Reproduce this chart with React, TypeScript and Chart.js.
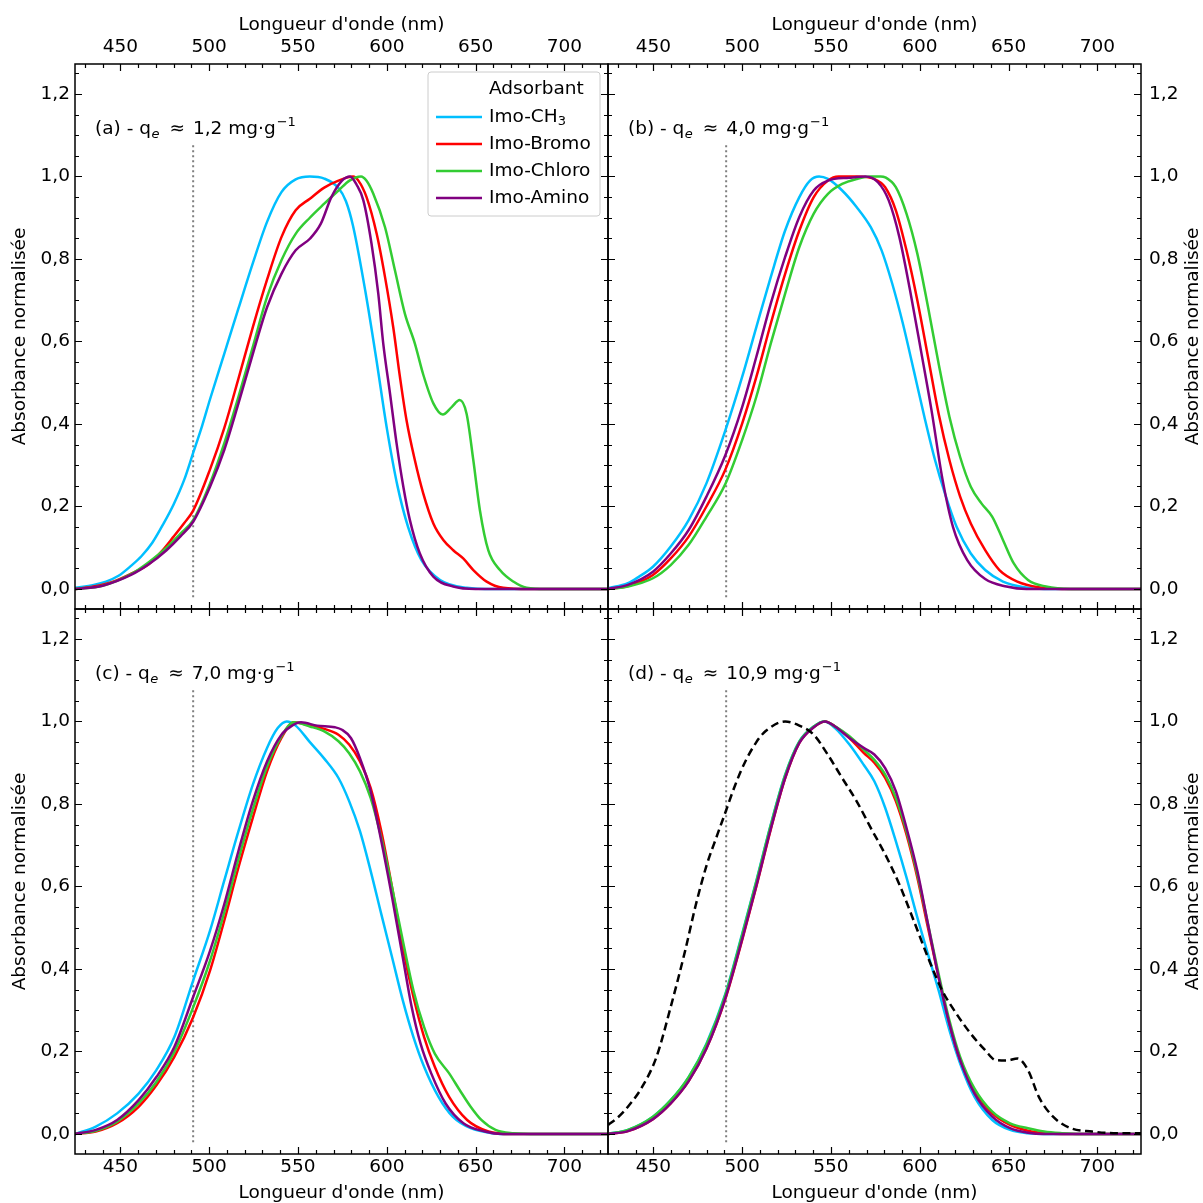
import React, { useEffect, useRef } from "react";
import { Chart, registerables } from "chart.js";

Chart.register(...registerables);

type P = [number, number];

// ---------------- data ----------------
const X_MIN = 424.5;
const X_MAX = 724.5;
const Y_MIN = -0.0485;
const Y_MAX = 1.2727;
const X_TICKS = [450, 500, 550, 600, 650, 700];
const Y_TICKS = [0, 0.2, 0.4, 0.6, 0.8, 1.0, 1.2];
const X_TITLE = "Longueur d'onde (nm)";
const Y_TITLE = "Absorbance normalisée";
const LEGEND_TITLE = "Adsorbant";
const SERIES_NAMES = ["Imo-CH", "Imo-Bromo", "Imo-Chloro", "Imo-Amino"];
const SERIES_SUBS = ["3", "", "", ""];
const SERIES_COLORS = ["#00bfff", "#ff0000", "#33cc33", "#800080"];
const PANEL_LETTERS = ["(a)", "(b)", "(c)", "(d)"];
const QE_VALUES = ["1,2", "4,0", "7,0", "10,9"];
const VLINE_X = 491;
const VLINE_Y = [-0.02, 1.08];

const A_CH3: P[] = [[424.5,0.003],[435,0.01],[442,0.018],[449,0.032],[456,0.056],[462,0.08],[468,0.112],[474,0.156],[480,0.205],[486,0.265],[491,0.33],[496,0.395],[500.5,0.46],[508.5,0.57],[516.5,0.68],[524.6,0.79],[532.6,0.89],[540.7,0.962],[548.7,0.993],[556.7,1.0],[564.8,0.995],[572.8,0.972],[577,0.94],[581,0.88],[588,0.72],[594,0.56],[600,0.39],[606,0.25],[612,0.15],[619.5,0.07],[630,0.022],[645,0.003],[660,0],[724.5,0]];
const A_BROMO: P[] = [[424.5,0],[435,0.006],[446,0.018],[456,0.037],[466,0.06],[473,0.09],[480,0.127],[486,0.16],[491,0.19],[500.5,0.29],[508.5,0.39],[516.5,0.51],[524.6,0.635],[532.6,0.75],[540.7,0.853],[548.7,0.918],[556.7,0.946],[564.8,0.973],[572.8,0.99],[581,1.0],[584,0.99],[588.6,0.95],[594.3,0.861],[599,0.756],[603.6,0.635],[607.4,0.514],[611.1,0.409],[615.8,0.312],[620.5,0.232],[626.2,0.159],[631.8,0.119],[637.4,0.094],[643,0.074],[648.7,0.046],[656.2,0.018],[665.5,0.003],[680,0],[724.5,0]];
const A_CHLORO: P[] = [[424.5,0],[440,0.008],[456,0.036],[466,0.065],[476,0.1],[484,0.135],[491,0.167],[500.5,0.256],[508.5,0.353],[516.5,0.466],[524.6,0.587],[532.6,0.708],[540.7,0.797],[548.7,0.861],[556.7,0.9],[564.8,0.934],[572.8,0.966],[579,0.99],[585.5,1.0],[588.5,0.99],[592.4,0.958],[599,0.877],[604.6,0.772],[610.2,0.667],[615.8,0.595],[620.5,0.52],[626.2,0.45],[631.5,0.423],[636.5,0.441],[641,0.458],[644.9,0.425],[648.7,0.312],[652.4,0.191],[657.1,0.094],[663.7,0.046],[671.2,0.018],[678.7,0.003],[690,0],[724.5,0]];
const A_AMINO: P[] = [[424.5,0],[440,0.008],[456,0.034],[466,0.06],[476,0.094],[484,0.128],[491,0.163],[500.5,0.248],[508.5,0.337],[516.5,0.45],[524.6,0.57],[532.6,0.683],[540.7,0.764],[548.7,0.821],[556.7,0.849],[562.8,0.885],[568.8,0.95],[574.8,0.99],[579.3,1.0],[583,0.98],[586.8,0.942],[591.4,0.837],[595.2,0.716],[598,0.595],[601.8,0.474],[605.5,0.353],[609.3,0.248],[613,0.167],[618.6,0.086],[626.2,0.03],[637.4,0.006],[650,0],[724.5,0]];

const B_CH3: P[] = [[424.5,0.002],[435.7,0.014],[442,0.03],[449.8,0.054],[459.8,0.103],[469.9,0.167],[479.9,0.256],[490.6,0.385],[500,0.514],[508,0.635],[516.1,0.756],[524.2,0.869],[532.2,0.95],[538.2,0.99],[543.3,1.0],[548.3,0.994],[556.3,0.966],[564.4,0.926],[572.4,0.877],[578.5,0.821],[584.5,0.74],[590.5,0.643],[596.6,0.53],[602.6,0.417],[608.6,0.312],[614.7,0.224],[620.7,0.151],[628.7,0.086],[636.8,0.046],[646.8,0.018],[658.9,0.004],[670,0],[724.5,0]];
const B_BROMO: P[] = [[424.5,0],[435.7,0.007],[449.8,0.034],[459.8,0.074],[469.9,0.127],[479.9,0.2],[490.6,0.29],[500,0.401],[508,0.514],[516.1,0.643],[524.2,0.764],[532.2,0.869],[540.3,0.95],[548.3,0.99],[554.3,1.0],[564.4,1.0],[574.4,0.994],[580.5,0.974],[586.5,0.918],[592.5,0.821],[598.6,0.7],[604.6,0.563],[610.6,0.425],[616.7,0.312],[622.7,0.224],[628.7,0.159],[636.8,0.094],[644.8,0.046],[654.9,0.018],[666.9,0.004],[680,0],[724.5,0]];
const B_CHLORO: P[] = [[424.5,0],[435.7,0.006],[449.8,0.026],[459.8,0.058],[469.9,0.107],[479.9,0.175],[490.6,0.255],[500,0.361],[508,0.466],[516.1,0.595],[524.2,0.716],[532.2,0.829],[540.3,0.91],[548.3,0.958],[556.3,0.982],[564.4,0.994],[572,1.0],[578,1.0],[580.5,0.998],[586.5,0.974],[592.5,0.91],[598.6,0.813],[604.6,0.684],[610.6,0.546],[616.7,0.417],[622.7,0.32],[628.7,0.248],[634.8,0.207],[640.8,0.175],[646.8,0.119],[652.9,0.062],[660.9,0.022],[671,0.006],[685,0],[724.5,0]];
const B_AMINO: P[] = [[424.5,0],[435.7,0.01],[449.8,0.042],[459.8,0.086],[469.9,0.143],[479.9,0.224],[490.6,0.325],[500,0.441],[508,0.563],[516.1,0.692],[524.2,0.805],[532.2,0.902],[540.3,0.966],[548.3,0.99],[560.4,0.997],[569.4,1.0],[576.4,0.986],[582.5,0.942],[588.5,0.853],[594.5,0.724],[600.6,0.579],[606.6,0.433],[612.6,0.27],[618.7,0.15],[626.7,0.07],[636.8,0.024],[648.8,0.006],[660,0],[724.5,0]];

const C_CH3: P[] = [[424.5,0],[436.2,0.018],[448.2,0.05],[460.3,0.098],[470.3,0.155],[480.4,0.235],[491,0.372],[500.5,0.493],[508.5,0.614],[516.5,0.734],[524.6,0.847],[532.6,0.936],[538.6,0.984],[543.7,1.0],[548.7,0.99],[556.7,0.95],[564.8,0.91],[572.8,0.863],[578.8,0.807],[584.9,0.734],[590.9,0.638],[596.9,0.533],[603,0.428],[609,0.324],[615,0.235],[621,0.163],[629.1,0.09],[637.1,0.042],[647.2,0.014],[659.2,0.002],[670,0],[724.5,0]];
const C_BROMO: P[] = [[424.5,0],[436.2,0.006],[448.2,0.026],[460.3,0.066],[470.3,0.118],[480.4,0.187],[491,0.283],[500.5,0.396],[508.5,0.517],[516.5,0.646],[524.6,0.767],[532.6,0.879],[540.7,0.96],[547.7,0.998],[556.7,0.99],[564.8,0.982],[572.8,0.968],[578.8,0.944],[584.9,0.903],[590.9,0.839],[596.9,0.734],[603,0.597],[609,0.452],[615,0.332],[621,0.235],[627,0.163],[635.1,0.09],[645.2,0.034],[657.2,0.006],[670,0],[724.5,0]];
const C_CHLORO: P[] = [[424.5,0],[436.2,0.008],[448.2,0.03],[460.3,0.074],[470.3,0.126],[480.4,0.199],[491,0.307],[500.5,0.42],[508.5,0.537],[516.5,0.666],[524.6,0.787],[532.6,0.891],[540.7,0.964],[547.7,0.998],[556.7,0.988],[564.8,0.976],[572.8,0.952],[578.8,0.923],[584.9,0.879],[590.9,0.815],[596.9,0.718],[603,0.597],[609,0.469],[615,0.348],[621,0.259],[627,0.195],[635.1,0.147],[641.1,0.106],[647.2,0.066],[653.2,0.034],[661.2,0.01],[671.3,0.002],[685,0],[724.5,0]];
const C_AMINO: P[] = [[424.5,0],[436.2,0.01],[448.2,0.034],[460.3,0.082],[470.3,0.138],[480.4,0.211],[491,0.332],[500.5,0.444],[508.5,0.557],[516.5,0.686],[524.6,0.807],[532.6,0.903],[540.7,0.968],[546.7,0.99],[551.7,0.998],[560.8,0.99],[570.8,0.986],[574.8,0.98],[579.8,0.96],[584.9,0.911],[590.9,0.831],[596.9,0.71],[603,0.573],[609,0.428],[614,0.308],[619,0.219],[625,0.147],[633.1,0.074],[643.1,0.026],[655.2,0.006],[665,0],[724.5,0]];

const D_CH3: P[] = [[424.5,0],[435.7,0.01],[449.8,0.042],[459.8,0.082],[469.9,0.138],[479.9,0.219],[490.6,0.34],[500,0.485],[508,0.614],[516.1,0.75],[524.2,0.871],[532.2,0.952],[540.3,0.988],[546.3,1.0],[552.3,0.984],[560.4,0.944],[568.4,0.895],[574.4,0.855],[580.5,0.791],[586.5,0.71],[592.5,0.622],[598.6,0.525],[604.6,0.436],[610.6,0.348],[616.7,0.251],[622.7,0.171],[630.8,0.09],[640.8,0.034],[650.8,0.01],[660.9,0.002],[672,0],[724.5,0]];
const D_BROMO: P[] = [[424.5,0],[435.7,0.007],[449.8,0.036],[459.8,0.074],[469.9,0.128],[479.9,0.207],[490.6,0.328],[500,0.47],[508,0.6],[516.1,0.738],[524.2,0.862],[532.2,0.948],[540.3,0.986],[546.8,1.0],[552.3,0.988],[560.4,0.96],[568.4,0.924],[574.4,0.9],[580.5,0.863],[586.5,0.807],[592.5,0.726],[598.6,0.622],[604.6,0.5],[610.6,0.38],[616.7,0.267],[622.7,0.179],[630.8,0.106],[640.8,0.05],[650.8,0.022],[660.9,0.008],[670,0.002],[680,0],[724.5,0]];
const D_CHLORO: P[] = [[424.5,0],[435.7,0.01],[449.8,0.042],[459.8,0.082],[469.9,0.138],[479.9,0.217],[490.6,0.338],[500,0.482],[508,0.612],[516.1,0.748],[524.2,0.869],[532.2,0.951],[540.3,0.988],[546.5,1.0],[552.3,0.988],[560.4,0.964],[568.4,0.932],[574.4,0.907],[580.5,0.871],[586.5,0.815],[592.5,0.734],[598.6,0.63],[604.6,0.509],[610.6,0.388],[616.7,0.275],[622.7,0.187],[630.8,0.11],[640.8,0.054],[650.8,0.026],[660.9,0.014],[670,0.006],[680,0.002],[690,0],[724.5,0]];
const D_AMINO: P[] = [[424.5,0],[435.7,0.007],[449.8,0.036],[459.8,0.074],[469.9,0.128],[479.9,0.207],[490.6,0.33],[500,0.472],[508,0.602],[516.1,0.74],[524.2,0.863],[532.2,0.948],[540.3,0.986],[546.5,1.0],[552.3,0.988],[560.4,0.96],[568.4,0.936],[574.4,0.92],[580.5,0.887],[586.5,0.831],[592.5,0.742],[598.6,0.638],[604.6,0.509],[610.6,0.38],[616.7,0.267],[622.7,0.179],[630.8,0.098],[640.8,0.042],[650.8,0.014],[660.9,0.003],[670,0],[724.5,0]];
const D_REF: P[] = [[424.6,0.022],[430,0.04],[435.7,0.066],[443.7,0.114],[451.8,0.187],[459.8,0.308],[467.9,0.444],[473.9,0.555],[479.9,0.65],[486,0.725],[490.6,0.78],[496,0.845],[502,0.905],[508,0.95],[512,0.972],[516.1,0.986],[520,0.996],[524.2,1.0],[532.2,0.99],[540.3,0.968],[548.3,0.919],[556.3,0.863],[564.4,0.807],[572.4,0.742],[580.5,0.678],[588.5,0.605],[596.6,0.517],[604.6,0.428],[612.6,0.348],[620.7,0.291],[628.7,0.243],[636.8,0.203],[642.8,0.179],[648.8,0.178],[655,0.183],[660.9,0.155],[667,0.09],[675,0.042],[685,0.014],[697,0.006],[709,0.002],[724.5,0.002]];

// ---------------- layout ----------------
const W = 1203;
const H = 1203;
const FONT = "DejaVu Sans";
const FS = 18.5;

type Area = { left: number; top: number; right: number; bottom: number };
type PanelCfg = {
  key: string;
  area: Area;
  xPos: "top" | "bottom";
  yPos: "left" | "right";
  series: P[][];
  ref?: P[];
  idx: number;
  legend: boolean;
};

const PANELS: PanelCfg[] = [
  { key: "a", idx: 0, area: { left: 75, top: 64, right: 608, bottom: 609 }, xPos: "top", yPos: "left", series: [A_CH3, A_BROMO, A_CHLORO, A_AMINO], legend: true },
  { key: "b", idx: 1, area: { left: 608, top: 64, right: 1141, bottom: 609 }, xPos: "top", yPos: "right", series: [B_CH3, B_BROMO, B_CHLORO, B_AMINO], legend: false },
  { key: "c", idx: 2, area: { left: 75, top: 609, right: 608, bottom: 1154 }, xPos: "bottom", yPos: "left", series: [C_CH3, C_BROMO, C_CHLORO, C_AMINO], legend: false },
  { key: "d", idx: 3, area: { left: 608, top: 609, right: 1141, bottom: 1154 }, xPos: "bottom", yPos: "right", series: [D_CH3, D_BROMO, D_CHLORO, D_AMINO], ref: D_REF, legend: false },
];

function fmtY(v: number) {
  return Number(v).toFixed(1).replace(".", ",");
}

function drawAnnotation(ctx: CanvasRenderingContext2D, x0: number, y: number, letter: string, qe: string) {
  let x = x0;
  ctx.fillStyle = "#000";
  ctx.textAlign = "left";
  ctx.textBaseline = "alphabetic";
  ctx.font = `${FS}px "${FONT}"`;
  let t = `${letter} - q`;
  ctx.fillText(t, x, y);
  x += ctx.measureText(t).width;
  ctx.font = `italic 13px "${FONT}"`;
  ctx.fillText("e", x + 0.5, y + 4);
  x += ctx.measureText("e").width + 0.5 + 10;
  ctx.font = `${FS}px "${FONT}"`;
  ctx.fillText("≈", x, y);
  x += ctx.measureText("≈").width + 8;
  t = `${qe} mg·g`;
  ctx.fillText(t, x, y);
  x += ctx.measureText(t).width;
  ctx.font = `13px "${FONT}"`;
  ctx.fillText("−1", x + 1, y - 8);
}

function drawLegend(ctx: CanvasRenderingContext2D, left: number, top: number) {
  const bx = left + 353, by = top + 8, bw = 172, bh = 144, r = 3;
  ctx.save();
  ctx.beginPath();
  ctx.moveTo(bx + r, by);
  ctx.lineTo(bx + bw - r, by);
  ctx.quadraticCurveTo(bx + bw, by, bx + bw, by + r);
  ctx.lineTo(bx + bw, by + bh - r);
  ctx.quadraticCurveTo(bx + bw, by + bh, bx + bw - r, by + bh);
  ctx.lineTo(bx + r, by + bh);
  ctx.quadraticCurveTo(bx, by + bh, bx, by + bh - r);
  ctx.lineTo(bx, by + r);
  ctx.quadraticCurveTo(bx, by, bx + r, by);
  ctx.closePath();
  ctx.fillStyle = "rgba(255,255,255,0.8)";
  ctx.fill();
  ctx.strokeStyle = "#cccccc";
  ctx.lineWidth = 1;
  ctx.stroke();

  const rows = [top + 25, top + 53, top + 80, top + 107, top + 134];
  const tx = left + 414;
  ctx.fillStyle = "#000";
  ctx.textAlign = "left";
  ctx.textBaseline = "middle";
  ctx.font = `${FS}px "${FONT}"`;
  ctx.fillText(LEGEND_TITLE, tx, rows[0]);
  SERIES_NAMES.forEach((name, i) => {
    const yy = rows[i + 1];
    ctx.strokeStyle = SERIES_COLORS[i];
    ctx.lineWidth = 2.5;
    ctx.beginPath();
    ctx.moveTo(left + 361, yy);
    ctx.lineTo(left + 407, yy);
    ctx.stroke();
    ctx.font = `${FS}px "${FONT}"`;
    ctx.fillText(name, tx, yy);
    if (SERIES_SUBS[i]) {
      const w = ctx.measureText(name).width;
      ctx.font = `13px "${FONT}"`;
      ctx.fillText(SERIES_SUBS[i], tx + w, yy + 5);
    }
  });
  ctx.restore();
}

function Panel({ cfg }: { cfg: PanelCfg }) {
  const ref = useRef<HTMLCanvasElement | null>(null);

  useEffect(() => {
    const canvas = ref.current;
    if (!canvas) return;
    const datasets: any[] = [];
    cfg.series.forEach((pts, i) => {
      datasets.push({
        label: SERIES_NAMES[i] + SERIES_SUBS[i],
        data: pts.map(([x, y]) => ({ x, y })),
        borderColor: SERIES_COLORS[i],
        backgroundColor: SERIES_COLORS[i],
        borderWidth: 2.5,
        pointRadius: 0,
        fill: false,
        cubicInterpolationMode: "monotone",
        order: 4 - i,
      });
    });
    if (cfg.ref) {
      datasets.push({
        label: "référence",
        data: cfg.ref.map(([x, y]) => ({ x, y })),
        borderColor: "#000",
        borderWidth: 2.5,
        borderDash: [8, 4.5],
        pointRadius: 0,
        fill: false,
        cubicInterpolationMode: "monotone",
        order: -1,
      });
    }
    datasets.push({
      label: "seuil",
      data: VLINE_Y.map((y) => ({ x: VLINE_X, y })),
      borderColor: "#7f7f7f",
      borderWidth: 2,
      borderDash: [2, 3],
      pointRadius: 0,
      fill: false,
      order: 10,
    });

    const a = cfg.area;
    const deco = {
      id: "deco" + cfg.key,
      afterDraw(chart: any) {
        const ctx: CanvasRenderingContext2D = chart.ctx;
        const { left, top, right, bottom } = chart.chartArea;
        const xs = chart.scales.x;
        const ys = chart.scales.y;
        ctx.save();
        ctx.strokeStyle = "#000";
        ctx.lineWidth = 1.2;
        ctx.beginPath();
        for (let i = 43; i <= 72; i++) {
          const v = i * 10;
          const px = Math.round(xs.getPixelForValue(v)) + 0.5;
          const len = i % 5 === 0 ? 7 : 4;
          ctx.moveTo(px, top);
          ctx.lineTo(px, top + len);
          ctx.moveTo(px, bottom);
          ctx.lineTo(px, bottom - len);
        }
        for (let i = -1; i <= 25; i++) {
          const v = i * 0.05;
          if (v < Y_MIN || v > Y_MAX) continue;
          const py = Math.round(ys.getPixelForValue(v)) + 0.5;
          const len = i % 4 === 0 ? 7 : 4;
          ctx.moveTo(left, py);
          ctx.lineTo(left + len, py);
          ctx.moveTo(right, py);
          ctx.lineTo(right - len, py);
        }
        ctx.stroke();
        ctx.lineWidth = 1.5;
        ctx.strokeRect(left, top, right - left, bottom - top);
        drawAnnotation(ctx, left + 20, top + 70, PANEL_LETTERS[cfg.idx], QE_VALUES[cfg.idx]);
        if (cfg.legend) drawLegend(ctx, left, top);
        if (cfg.yPos === "right") {
          ctx.save();
          ctx.translate(W - 10, (top + bottom) / 2);
          ctx.rotate(-Math.PI / 2);
          ctx.fillStyle = "#000";
          ctx.textAlign = "center";
          ctx.textBaseline = "middle";
          ctx.font = `${FS}px "${FONT}"`;
          ctx.fillText(Y_TITLE, 0, 0);
          ctx.restore();
        }
        ctx.restore();
      },
    };

    const chart = new Chart(canvas, {
      type: "line",
      data: { datasets },
      options: {
        responsive: false,
        animation: false,
        devicePixelRatio: 1,
        events: [],
        layout: {
          padding: {
            left: cfg.yPos === "left" ? 0 : a.left,
            right: cfg.yPos === "right" ? 0 : W - a.right,
            top: cfg.xPos === "top" ? 0 : a.top,
            bottom: cfg.xPos === "bottom" ? 0 : H - a.bottom,
          },
        },
        plugins: { legend: { display: false }, tooltip: { enabled: false } },
        scales: {
          x: {
            type: "linear",
            position: cfg.xPos,
            min: X_MIN,
            max: X_MAX,
            afterBuildTicks: (s: any) => {
              s.ticks = X_TICKS.map((v) => ({ value: v }));
            },
            afterFit: (s: any) => {
              s.height = cfg.xPos === "top" ? a.top : H - a.bottom;
            },
            grid: { display: false, drawTicks: false, tickLength: 0 },
            border: { display: false },
            ticks: {
              autoSkip: false,
              maxRotation: 0,
              minRotation: 0,
              padding: cfg.xPos === "top" ? 6 : 2,
              color: "#000",
              font: { family: FONT, size: FS },
              callback: (v: any) => String(v),
            },
            title: {
              display: true,
              text: X_TITLE,
              color: "#000",
              font: { family: FONT, size: FS, lineHeight: cfg.xPos === "top" ? 1.2 : "20px" },
              padding: cfg.xPos === "top" ? { top: 14, bottom: 0 } : { top: 0, bottom: 0 },
            },
          },
          y: {
            type: "linear",
            position: cfg.yPos,
            min: Y_MIN,
            max: Y_MAX,
            afterBuildTicks: (s: any) => {
              s.ticks = Y_TICKS.map((v) => ({ value: v }));
            },
            afterFit: (s: any) => {
              s.width = cfg.yPos === "left" ? a.left : W - a.right;
            },
            grid: { display: false, drawTicks: false, tickLength: 0 },
            border: { display: false },
            ticks: {
              padding: cfg.yPos === "left" ? 5 : 8,
              color: "#000",
              font: { family: FONT, size: FS },
              callback: (v: any) => fmtY(v),
            },
            title: {
              display: cfg.yPos === "left",
              text: Y_TITLE,
              color: "#000",
              font: { family: FONT, size: FS },
              padding: { top: 9, bottom: 0 },
            },
          },
        },
      } as any,
      plugins: [deco],
    });
    return () => chart.destroy();
  }, [cfg]);

  return (
    <canvas
      ref={ref}
      width={W}
      height={H}
      style={{ position: "absolute", left: 0, top: 0, width: W + "px", height: H + "px" }}
    />
  );
}

export default function App() {
  return (
    <div
      style={{
        position: "absolute",
        left: 0,
        top: 0,
        width: W,
        height: H,
        background: "#fff",
        overflow: "hidden",
      }}
    >
      {PANELS.map((p) => (
        <Panel key={p.key} cfg={p} />
      ))}
    </div>
  );
}
